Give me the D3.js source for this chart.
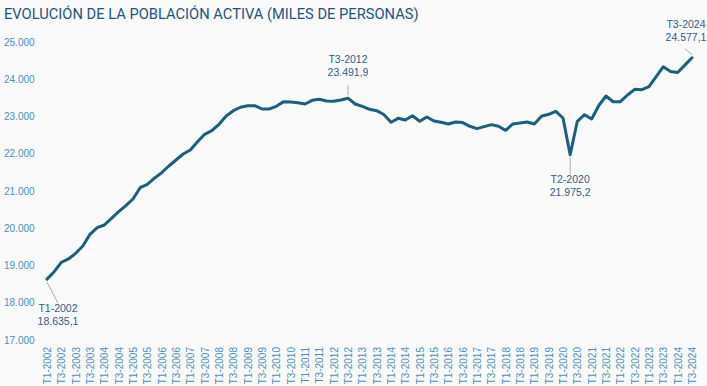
<!DOCTYPE html>
<html>
<head>
<meta charset="utf-8">
<script src="https://cdn.jsdelivr.net/npm/d3@7"></script>
<style>
  body { margin: 0; background: #fafafa; }
  svg { display: block; }
</style>
</head>
<body>
<div class="canvas"></div>
<script>

// data (miles de personas), trimestral T1-2002 .. T3-2024
const years = [2002, 2003, 2004, 2005, 2006, 2007, 2008, 2009, 2010, 2011, 2012,
  2013, 2014, 2015, 2016, 2017, 2018, 2019, 2020, 2021, 2022, 2023, 2024]
const quarters = ['T1', 'T2', 'T3', 'T4']

const activos = [
  18635.1, 18834, 19086, 19175, 19327, 19523, 19837, 20015,
  20087, 20266, 20444, 20605, 20785, 21088, 21180, 21345,
  21491, 21671, 21832, 21993, 22100, 22324, 22522, 22619,
  22790, 23013, 23156, 23248, 23290, 23290, 23201, 23201,
  23273, 23397, 23389, 23370, 23335, 23435, 23462, 23416,
  23408, 23443, 23491.9, 23335, 23273, 23192, 23156, 23054,
  22844, 22951, 22906, 23021, 22871, 22987, 22880, 22844,
  22799, 22853, 22836, 22737, 22674, 22728, 22781, 22737,
  22629, 22799, 22826, 22853, 22799, 23005, 23059, 23140,
  22960, 21975.2, 22871, 23048, 22933, 23295, 23550, 23397,
  23397, 23577, 23729, 23720, 23800, 24068, 24336, 24210,
  24183, 24380, 24577.1
]

const yTicks = [17000, 18000, 19000, 20000, 21000, 22000, 23000, 24000, 25000]

// highlighted points
const highlights = ['T1-2002', 'T3-2012', 'T2-2020', 'T3-2024']

// build period labels
const periods = []
years.forEach(yr => quarters.forEach(q => periods.push(q + '-' + yr)))
const data = activos.map((v, i) => ({ period: periods[i], value: v }))

const es = d3.formatLocale({ decimal: ',', thousands: '.', grouping: [3], currency: ['', ' €'] })
const fmtTick = es.format(',d')
const fmtVal = es.format(',.1f')

const width = 707
const height = 386

const svg = d3.select('.canvas')
  .append('svg')
  .attr('width', width)
  .attr('height', height)

svg.append('rect').attr('width', width).attr('height', height).attr('fill', '#fafafa')

// title
svg.append('text')
  .attr('x', 4)
  .attr('y', 19)
  .attr('fill', '#1d5580')
  .style('font-family', 'Roboto, sans-serif')
  .style('font-size', '14.7px')
  .text('EVOLUCIÓN DE LA POBLACIÓN ACTIVA (MILES DE PERSONAS)')

const x = d3.scalePoint()
  .domain(data.map(d => d.period))
  .range([47, 692])

const y = d3.scaleLinear()
  .domain([17000, 25000])
  .range([340, 42])

// y axis
const yAxisGroup = svg.append('g').attr('transform', 'translate(4, 0)')
yAxisGroup.call(d3.axisLeft(y).tickValues(yTicks).tickFormat(fmtTick).tickSize(0))
yAxisGroup.select('.domain').remove()
yAxisGroup.selectAll('text')
  .attr('x', 0)
  .attr('text-anchor', 'start')
  .attr('fill', '#4a8fc4')
  .style('font-family', '"Liberation Sans", Arial, sans-serif')
  .style('font-size', '10px')

// x axis, only T1 and T3 labels
const xTicks = data.map(d => d.period).filter(p => p.startsWith('T1') || p.startsWith('T3'))
const xAxisGroup = svg.append('g').attr('transform', 'translate(0, 347)')
xAxisGroup.call(d3.axisBottom(x).tickValues(xTicks).tickSize(0))
xAxisGroup.select('.domain').remove()
xAxisGroup.selectAll('text')
  .attr('transform', 'rotate(-90)')
  .attr('x', 0)
  .attr('y', 0)
  .attr('dy', '0.35em')
  .attr('text-anchor', 'end')
  .attr('fill', '#4a8fc4')
  .style('font-family', '"Liberation Sans", Arial, sans-serif')
  .style('font-size', '10px')

// line
const line = d3.line()
  .x(d => x(d.period))
  .y(d => y(d.value))

svg.append('path')
  .datum(data)
  .attr('fill', 'none')
  .attr('stroke', '#1a5f80')
  .attr('stroke-width', 3)
  .attr('stroke-linejoin', 'round')
  .attr('stroke-linecap', 'round')
  .attr('d', line)

// annotations: leader end (dx, dy) and label position (lx, ly) relative to the point
const offsets = {
  'T1-2002': { dx: 11, dy: 24, lx: 11, ly: 33 },
  'T3-2012': { dx: 0, dy: -13, lx: 0, ly: -35 },
  'T2-2020': { dx: 0, dy: 19, lx: 0, ly: 28 },
  'T3-2024': { dx: -7, dy: -9, lx: -6, ly: -30 }
}

highlights.forEach(p => {
  const d = data.find(item => item.period == p)
  const o = offsets[p]
  const px = x(d.period)
  const py = y(d.value)
  const down = o.ly > 0
  svg.append('line')
    .attr('x1', px).attr('y1', py + (down ? 3 : -3))
    .attr('x2', px + o.dx).attr('y2', py + o.dy)
    .attr('stroke', '#aaaaaa')
    .attr('stroke-width', 1)
  const t = svg.append('text')
    .attr('text-anchor', 'middle')
    .attr('fill', '#2d5f86')
    .style('font-family', '"Liberation Sans", Arial, sans-serif')
    .style('font-size', '10.5px')
  t.append('tspan').attr('x', px + o.lx).attr('y', py + o.ly).text(p)
  t.append('tspan').attr('x', px + o.lx).attr('y', py + o.ly + 13).text(fmtVal(d.value))
})

</script>
</body>
</html>
